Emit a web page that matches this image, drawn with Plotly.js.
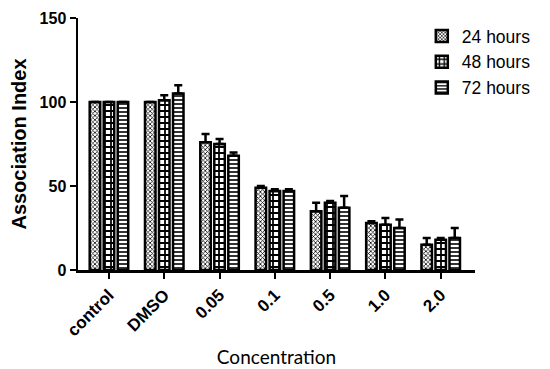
<!DOCTYPE html>
<html>
<head>
<meta charset="utf-8">
<script src="https://cdn.plot.ly/plotly-3.0.1.min.js"></script>
<style>html,body{margin:0;padding:0;background:#fff;}#chart{width:550px;height:369px;}</style>
</head>
<body>
<div id="chart"></div>
<script>
const categories = ["control", "DMSO", "0.05", "0.1", "0.5", "1.0", "2.0"];
const seriesNames = ["24 hours", "48 hours", "72 hours"];
const values24 = [100, 100, 76, 49, 35, 28, 15];
const values48 = [100, 101, 75, 47, 40, 27, 18];
const values72 = [100, 105, 68, 47, 37, 25, 19];
const err24 = [0, 0, 5, 1, 5, 1, 4];
const err48 = [0, 3, 3, 1, 1, 4, 1];
const err72 = [0, 5, 2, 1, 7, 5, 6];
const yTicks = [0, 50, 100, 150];

const patterns = [
  {shape: "x", size: 3, solidity: 0.45, fgcolor: "#000", bgcolor: "#fff"},
  {shape: "+", size: 6, solidity: 0.5, fgcolor: "#000", bgcolor: "#fff"},
  {shape: "-", size: 4, solidity: 0.4, fgcolor: "#000", bgcolor: "#fff"}
];
const vals = [values24, values48, values72];
const errs = [err24, err48, err72];

const traces = seriesNames.map((name, i) => ({
  type: "bar",
  name: name,
  x: categories,
  y: vals[i],
  marker: {color: "#fff", pattern: patterns[i], line: {color: "#000", width: 2.5}},
  error_y: {type: "data", symmetric: false, array: errs[i], arrayminus: errs[i].map(() => 0),
            color: "#000", thickness: 2.5, width: 4}
}));

const layout = {
  width: 550, height: 369,
  margin: {l: 78, r: 75, t: 18, b: 99},
  paper_bgcolor: "#fff", plot_bgcolor: "#fff",
  barmode: "group", bargap: 0.24, bargroupgap: 0.25,
  font: {family: "Liberation Sans, Arial, sans-serif", color: "#000"},
  xaxis: {
    type: "category",
    range: [-0.56, 6.62], showline: true, linewidth: 2.5, linecolor: "#000",
    ticks: "outside", ticklen: 6, tickwidth: 2, tickcolor: "#000",
    tickangle: -45, tickfont: {size: 17, family: "Liberation Sans, Arial", weight: "bold"},
    showgrid: false, zeroline: false,
    title: {text: "Concentration", font: {size: 19, family: "Lato, sans-serif"}, standoff: 12}
  },
  yaxis: {
    range: [0, 150], tickvals: yTicks, showline: true, linewidth: 2.5, linecolor: "#000",
    ticks: "outside", ticklen: 6, tickwidth: 2, tickcolor: "#000",
    tickfont: {size: 16, family: "Liberation Sans, Arial", weight: "bold"},
    showgrid: false, zeroline: false,
    title: {text: "Association Index", font: {size: 20, family: "Liberation Sans, Arial", weight: "bold"}, standoff: 8}
  },
  legend: {x: 0.866, y: 1.0, xanchor: "left", yanchor: "top", font: {size: 17.5},
           itemwidth: 30, bgcolor: "rgba(0,0,0,0)"},
  showlegend: true
};

Plotly.newPlot("chart", traces, layout, {displayModeBar: false, staticPlot: true});
</script>
</body>
</html>
